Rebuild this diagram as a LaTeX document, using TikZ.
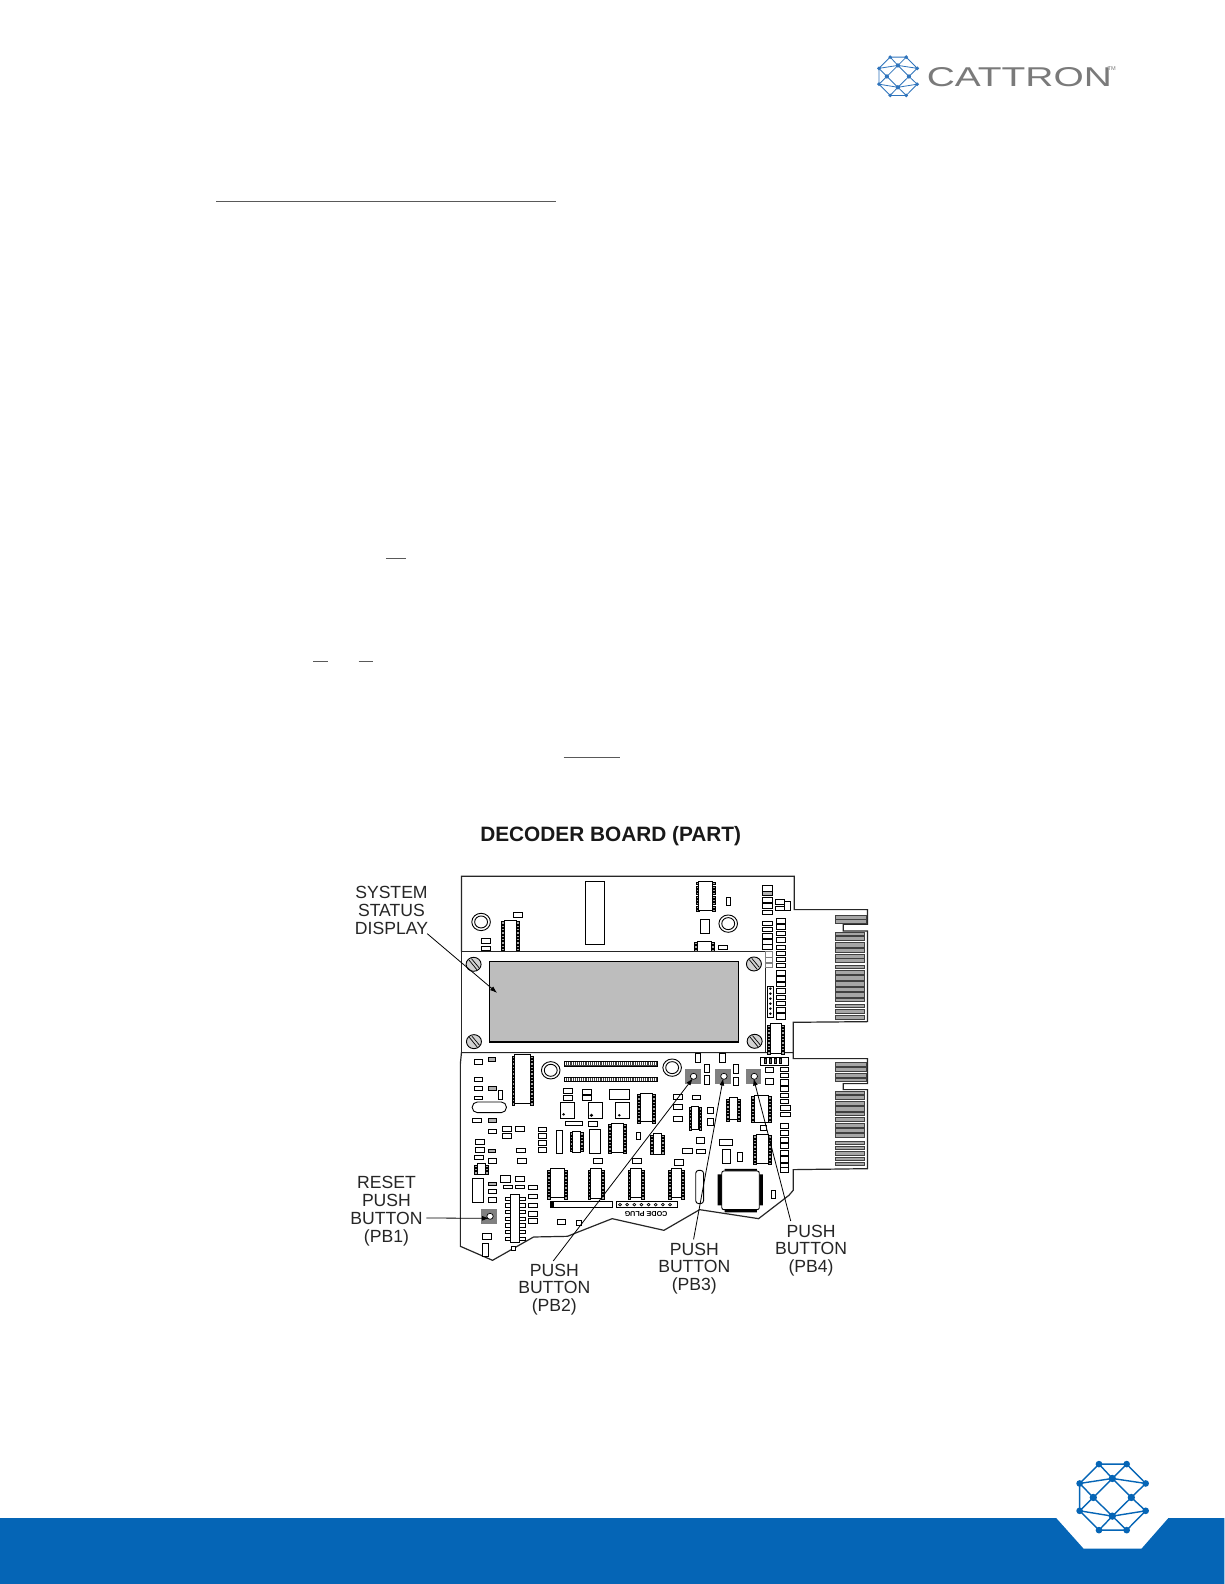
\documentclass[tikz,border=0pt]{standalone}
\usepackage{fontspec}
\setmainfont{Liberation Sans}
\usetikzlibrary{arrows.meta}
\definecolor{banner}{HTML}{0565B6}
\definecolor{logotop}{HTML}{2F74BC}
\definecolor{logotext}{HTML}{7A7A7A}
\definecolor{lcdgray}{HTML}{BDBDBD}
\definecolor{btngray}{HTML}{808080}
\definecolor{fingergray}{HTML}{A6A6A6}
\tikzset{
  comp/.style={draw=black,line width=.45pt,fill=white},
  compgray/.style={draw=black,line width=.35pt,fill=gray!60},
  boardline/.style={draw=black!85,line width=.6pt},
  finger/.style={draw=black!75,line width=.35pt,fill=fingergray},
  lbl/.style={align=center,inner sep=0pt,text=black!85,font=\fontsize{8.8}{8.95}\selectfont},
  leader/.style={draw=black,line width=.4pt,-{Latex[length=3.6pt,width=2.4pt]}},
  uline/.style={draw=black!65,line width=.5pt},
  net/.style={line width=#1,line cap=round}
}
% chip with pins on both sides
\newcommand\chipp[4]{%
  \pgfmathtruncatemacro\npins{int((#4-#2-4)/10)}%
  \foreach \i in {0,...,\npins}{%
    \pgfmathsetmacro\yy{#2+4+\i*10}%
    \draw[comp,line width=.3pt,fill=black!35] (#1-8,\yy) rectangle (#1,\yy+6.5);
    \draw[comp,line width=.3pt,fill=black!35] (#3,\yy) rectangle (#3+8,\yy+6.5);
  }%
  \draw[comp] (#1,#2) rectangle (#3,#4);
}
% mounting screw
\newcommand\screw[2]{%
  \draw[draw=black,line width=.45pt,fill=gray!35] (#1,#2) circle [radius=21];
  \draw[line width=.35pt] (#1-13,#2-13) -- (#1+9,#2+16) (#1-6,#2-17) -- (#1+15,#2+10);
}
% double ring
\newcommand\ringg[2]{%
  \draw[line width=.45pt] (#1,#2) circle [radius=26];
  \draw[line width=.45pt] (#1,#2) circle [radius=18];
}
% hatched header strip
\newcommand\hstrip[4]{%
  \draw[draw=black,line width=.4pt,fill=black!75] (#1,#2) rectangle (#3,#4);
  \pgfmathtruncatemacro\nticks{int((#3-#1-4)/6)}%
  \foreach \i in {0,...,\nticks}{\pgfmathsetmacro\xx{#1+3+\i*6}\draw[white,line width=.3pt] (\xx,#2+2) -- (\xx,#4-2);}
}
% network logo: 12 nodes, centred
\newcommand\logoicon[3]{%
\begin{scope}[shift={(#1)},x=#2*.1667pt,y=-#2*.1667pt]
  \coordinate (a1) at (-41,-99); \coordinate (a2) at (42,-99);
  \coordinate (b1) at (-99,-41); \coordinate (b2) at (-1,-56); \coordinate (b3) at (99,-41);
  \coordinate (c1) at (-58,1); \coordinate (c2) at (56,1);
  \coordinate (d1) at (-99,41); \coordinate (d2) at (-1,57); \coordinate (d3) at (99,41);
  \coordinate (e1) at (-41,99); \coordinate (e2) at (42,99);
  \draw[#3,net=#2*.7pt]
    (a1)--(a2) (a1)--(b1) (a1)--(b2) (a2)--(b2) (a2)--(b3)
    (b1)--(b2) (b2)--(b3) (b1)--(c1) (b1)--(d1) (b2)--(c1) (b2)--(c2) (b3)--(c2)
    (c1)--(d1) (c1)--(d2) (c2)--(d2) (c2)--(d3)
    (d1)--(d2) (d2)--(d3) (d1)--(e1) (d2)--(e1) (d2)--(e2) (d3)--(e2) (e1)--(e2);
  \foreach \p in {a1,a2,b1,b3,d1,d3,e1,e2}{\fill[#3] (\p) circle [radius=10];}
  \foreach \p in {b2,c1,c2,d2}{\fill[#3] (\p) circle [radius=11];}
\end{scope}}
\begin{document}
\begin{tikzpicture}[x=.50495pt,y=-.50495pt]
\useasboundingbox (0,0) rectangle (1212,1568);
\fill[white] (0,0) rectangle (1212,1568);
% footer band
\fill[banner] (0,1502.8) -- (1045.6,1502.8) -- (1072.6,1533) -- (1130,1533) -- (1156.5,1502.8) -- (1212,1502.8) -- (1212,1568) -- (0,1568) -- cycle;
\logoicon{1101.4,1482}{1}{banner}
% header logo
\logoicon{889,75.5}{.58}{logotop}
\node[inner sep=0pt,anchor=west,text=logotext] (wordmark) at (917,76) {\scalebox{1.43}[1]{\fontsize{13.6}{14}\selectfont CATTRON}};
\node[inner sep=0pt,text=logotext,font=\fontsize{2.8}{3}\selectfont] (tm) at (1100.5,68) {TM};
% blanked-text underlines
\draw[uline] (214,199) -- (550,199);
\draw[uline] (382,553) -- (402,553);
\draw[uline] (310,655) -- (325,655);
\draw[uline] (355,655) -- (369,655);
\draw[uline] (558,750) -- (614,750);
\node[inner sep=0pt,font=\bfseries\fontsize{10.4}{12}\selectfont,text=black!90] (title) at (604.5,828) {DECODER BOARD (PART)};
% board, zoom coordinates
\begin{scope}[shift={(326.7,812)},x=.1785pt,y=-.16663pt]
% outline
\draw[boardline] (368,394) -- (368,168) -- (1300,168) -- (1300,268) -- (1505,268) -- (1505,312) -- (1437,312) -- (1437,332) -- (1505,332) -- (1505,604) -- (1297,606) -- (1297,715) -- (1505,715) -- (1505,790) -- (1437,790) -- (1437,808) -- (1505,808) -- (1505,1045) -- (1297,1048) -- (1297,1110) -- (1285,1125) -- (1200,1195) -- (1035,1168) -- (935,1230) -- (790,1195) -- (695,1235) -- (665,1248) -- (570,1250) -- (455,1320) -- (365,1278) -- (365,730) -- (368,697) -- (1297,697);
% top components
\draw[comp] (715,183) rectangle (769,371);
\chipp{1033}{183}{1071}{271}
\foreach \a/\b/\c/\d in {1110/232/1122/256,1037/296/1062/340,513/277/539/290,425/355/449/368,425/379/449/389,1088/376/1114/388,
 1211/196/1238/212,1211/232/1238/246,1211/250/1238/264,1211/270/1238/281,1247/238/1272/252,1247/257/1272/271,1272/243/1289/271,
 1211/304/1238/316,1211/320/1238/334,1211/338/1238/354,1211/358/1238/372,1211/372/1238/388,
 1251/295/1276/310,1251/312/1276/328,1251/332/1276/346,1251/352/1276/366,1251/374/1276/388,1251/392/1276/406,1251/410/1276/424,1251/428/1276/442,1251/450/1276/466,1251/468/1276/484,1251/486/1276/498,1251/504/1276/518,1251/524/1276/538,1251/542/1276/556,1251/562/1276/576,1251/580/1276/596}
 {\draw[comp] (\a,\b) rectangle (\c,\d);}
\draw[compgray] (1211,214) rectangle (1238,226);
\ringg{423}{305}
\ringg{1115}{310}
\chipp{487}{300}{521}{394}
\chipp{1028}{362}{1067}{392}
\draw[comp] (1225,497) rectangle (1241,590);
\foreach \yy in {505,520,...,585}{\fill (1233,\yy) circle [radius=4];}
% fingers upper
\foreach \b/\d in {284/296,298/310}{\draw[finger] (1415,\b) rectangle (1503,\d);}
\foreach \b/\d in {335/345,349/361,366/380,385/397,401/413,415/427,436/444,450/462,466/480,484/498,500/512,516/530,534/544,552/560,566/578,584/596}{\draw[finger] (1415,\b) rectangle (1497,\d);}
% display module
\draw[boardline,fill=white] (368,394) rectangle (1220,697);
\draw[draw=black,line width=.6pt,fill=lcdgray] (446,424) rectangle (1143,665);
\screw{402}{432}\screw{1187}{431}\screw{403}{664}\screw{1189}{663}
\chipp{1232}{610}{1265}{700}
\foreach \b/\d in {392/410,412/426,430/442}{\draw[draw=gray,line width=.4pt,fill=white] (1220,\b) rectangle (1238,\d);}
% lower components (second zoom coordinates)
\begin{scope}[shift={(0,690)}]
\foreach \a/\b/\c/\d in {1023/8/1037/36,1090/8/1108/36,1048/43/1062/67,1048/76/1062/102,1130/43/1144/70,1130/82/1144/106,1220/50/1243/66,1220/85/1243/102,
 1260/52/1283/64,1260/70/1283/82,1260/88/1283/104,1260/108/1283/124,1260/128/1283/142,1260/146/1283/160,1262/165/1288/180,1262/185/1288/198,
 1260/220/1283/235,1260/240/1283/255,1260/260/1283/275,1260/280/1283/295,1260/300/1283/315,1260/318/1283/335,1260/340/1283/350,1260/352/1283/365,
 404/28/428/42,404/82/428/94,403/108/428/120,403/137/428/148,471/120/484/146,400/203/424/216,444/238/466/250,484/228/508/242,520/228/544/244,484/250/508/264,
 408/268/432/282,408/292/432/306,405/314/430/328,443/325/466/338,523/295/548/305,525/325/550/340,399/385/429/456,444/418/465/430,444/441/465/455,
 477/376/505/397,520/378/544/394,486/405/510/415,520/405/544/415,555/405/580/418,555/432/580/445,555/460/580/472,555/482/580/497,555/505/580/520,
 637/508/660/522,690/510/705/525,428/550/452/568,427/580/443/618,508/588/520/600,
 655/115/678/130,655/135/678/150,708/118/732/132,708/136/732/150,782/118/838/146,645/157/685/204,723/157/763/204,800/157/838/204,660/212/708/226,723/214/750/229,
 634/240/650/308,726/237/758/308,584/230/607/244,584/250/607/264,584/270/607/284,584/292/607/306,857/247/869/268,
 963/132/987/148,963/163/987/178,963/198/987/212,1015/135/1038/148,1056/170/1074/188,1056/205/1074/224,1025/262/1048/278,988/295/1014/308,1025/297/1050/308,
 1090/268/1127/286,1098/298/1122/338,1140/305/1155/332,1204/225/1222/241,738/325/762/338,848/325/873/338,964/328/989/344,1236/420/1248/445,1205/20/1285/46}
 {\draw[comp] (\a,\b) rectangle (\c,\d);}
\foreach \xx in {1219,1233,1247,1261}{\draw[line width=.4pt,fill=black!60] (\xx-3,24) rectangle (\xx+3,40);}
\foreach \a/\b/\c/\d in {444/22/464/32,444/108/466/120,444/205/466/217,444/298/464/307,444/395/465/406}{\draw[compgray] (\a,\b) rectangle (\c,\d);}
\draw[comp,rounded corners=2.6pt] (398,155) rectangle (494,187);
\draw[comp,rounded corners=1.5pt] (1024,360) rectangle (1046,460);
\ringg{618}{60}\ringg{958}{52}
\hstrip{656}{33}{917}{47}
\hstrip{656}{80}{917}{94}
\chipp{517}{13}{560}{158}
\chipp{868}{128}{903}{214}
\chipp{680}{243}{700}{306}
\chipp{788}{218}{822}{306}
\chipp{905}{250}{929}{312}
\chipp{1013}{168}{1033}{236}
\chipp{1118}{142}{1140}{206}
\chipp{1189}{135}{1227}{216}
\chipp{1193}{252}{1227}{340}
\chipp{413}{340}{435}{372}
\chipp{617}{355}{657}{442}
\chipp{730}{355}{760}{445}
\chipp{842}{355}{872}{442}
\chipp{955}{355}{985}{442}
% tall chip with long pins
\foreach \i in {0,...,6}{\draw[comp] (490,440+\i*20) rectangle (548,450+\i*20);}
\draw[comp] (506,433) rectangle (530,577);
% dots on small square parts
\fill (654,192) circle [radius=4]; \fill (732,195) circle [radius=5]; \fill (810,195) circle [radius=4];
% QFP
\fill[black] (1105,356) rectangle (1195,363) (1105,477) rectangle (1195,486) (1085,372) rectangle (1098,465) (1201,372) rectangle (1212,465);
\draw[comp,rounded corners=1pt] (1097,362) rectangle (1202,478);
% plug strips
\draw[comp] (617,454) rectangle (790,472);
\fill (617,456) rectangle (627,470);
\draw[comp] (802,454) rectangle (972,472);
\foreach \xx in {812,832,852,872,892,912,932,952}{\draw[line width=.35pt] (\xx,463) circle [radius=4];}
\node[rotate=180,inner sep=0pt,font=\bfseries\fontsize{3.6}{4}\selectfont] (plug) at (885,491) {CODE PLUG};
% fingers lower
\foreach \b/\d in {35/47,50/64,68/80,84/94}{\draw[finger] (1415,\b) rectangle (1503,\d);}
\foreach \b/\d in {122/132,136/146,152/164,168/182,186/196,202/212,218/230,234/246,250/262,272/282,288/298,304/316,320/330,336/346}{\draw[finger] (1415,\b) rectangle (1497,\d);}
% push buttons
\foreach \n/\x/\y in {pbtwo/1016/78,pbthree/1101/78,pbfour/1186/78,pbone/446/498}{
  \fill[btngray] (\x-22,\y-23) rectangle (\x+22,\y+22);
  \draw[line width=.35pt,fill=white] (\x+2,\y) circle [radius=9];
  \coordinate (\n) at (\x,\y+6);
}
% labels
\node[lbl] (lone) at (158,482) {RESET\\PUSH\\BUTTON\\(PB1)};
\node[lbl] (ltwo) at (628,718) {PUSH\\BUTTON\\(PB2)};
\node[lbl] (lthree) at (1020,655) {PUSH\\BUTTON\\(PB3)};
\node[lbl] (lfour) at (1347,601) {PUSH\\BUTTON\\(PB4)};
\coordinate (ltwotip) at (625,632);
\coordinate (lthreetip) at (1018,567);
\coordinate (lfourtip) at (1290,512);
\coordinate (lonetip) at (270,503);
\draw[leader] (lonetip) -- (pbone);
\draw[leader] (ltwotip) -- (pbtwo);
\draw[leader] (lthreetip) -- (pbthree);
\draw[leader] (lfourtip) -- (pbfour);
\end{scope}
% display label
\node[lbl] (lsys) at (172,270) {SYSTEM\\STATUS\\DISPLAY};
\coordinate (lsystip) at (272,340);
\coordinate (lcdpt) at (468,518);
\draw[leader] (lsystip) -- (lcdpt);
\end{scope}
\end{tikzpicture}
\end{document}
